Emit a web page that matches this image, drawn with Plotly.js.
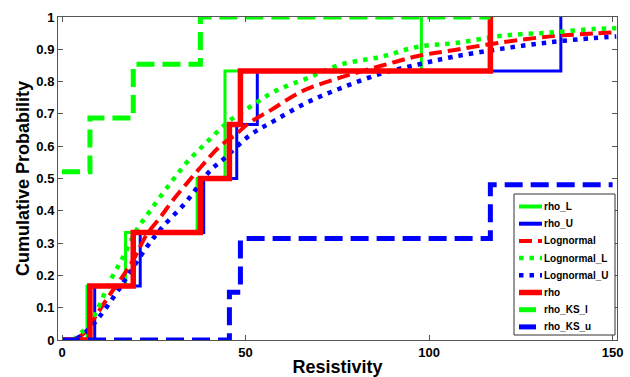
<!DOCTYPE html>
<html><head><meta charset="utf-8">
<script src="https://cdn.plot.ly/plotly-3.0.1.min.js"></script>
<style>html,body{margin:0;padding:0;background:#fff;} #chart{width:630px;height:377px;}</style>
</head><body><div id="chart"></div>
<script>
// ---- data ----
const stepLevels = [0, 0.167, 0.333, 0.5, 0.667, 0.833, 1];
const rhoX  = [0, 7.6, 19.4, 37.7, 45.6, 48.6, 116.7];
const rhoLX = [0, 6.8, 17.3, 36.8, 44.4, 44.4, 97.9];
const rhoUX = [0, 8.9, 21.3, 38.6, 47.6, 53.2, 135.9];

const ksLX = [0, 7.6, 19.4, 37.7, 116.7];
const ksLY = [0.521, 0.687, 0.854, 1.0, 1.0];
const ksUX = [0, 45.6, 48.6, 116.7, 150];
const ksUY = [0, 0.148, 0.314, 0.481, 0.481];

const logX = [3.5, 6, 9.5, 13, 17, 20, 23, 27, 30, 34, 38, 43, 47, 51, 57, 65, 75, 87, 97, 107, 120, 133, 145, 151];
const logY = [0, 0.021, 0.08, 0.14, 0.205, 0.26, 0.325, 0.383, 0.43, 0.485, 0.538, 0.60, 0.633, 0.672, 0.7125, 0.768, 0.8095, 0.849, 0.8794, 0.898, 0.9216, 0.94, 0.9489, 0.953];

const logLX = [3, 6, 9, 13, 17, 20, 24, 29.5, 34, 39.5, 45, 51, 58, 66.7, 76, 87, 97, 107.6, 120, 133, 145, 151];
const logLY = [0, 0.031, 0.08, 0.18, 0.265, 0.335, 0.40, 0.485, 0.55, 0.613, 0.673, 0.72, 0.77, 0.81, 0.853, 0.877, 0.908, 0.92, 0.942, 0.952, 0.963, 0.965];

const logUX = [4, 6, 9, 14.5, 18, 22.6, 27, 34, 40.4, 44, 51.3, 58, 66.7, 76, 86.7, 97, 106.7, 120, 133, 145, 151];
const logUY = [0.005, 0.02, 0.055, 0.14, 0.20, 0.28, 0.345, 0.43, 0.525, 0.56, 0.635, 0.68, 0.735, 0.78, 0.824, 0.853, 0.877, 0.902, 0.922, 0.935, 0.94];

const xTicks = [0, 50, 100, 150];

// ---- styles ----
const GREEN = 'rgb(0,255,0)', BLUE = 'rgb(0,0,255)', RED = 'rgb(255,0,0)';
const FONT = 'Liberation Sans, Arial, Helvetica, sans-serif';

const traces = [
  {name:'rho_L', x:rhoLX, y:stepLevels, line:{shape:'hv', color:GREEN, width:3}},
  {name:'rho_U', x:rhoUX, y:stepLevels, line:{shape:'hv', color:BLUE, width:3}},
  {name:'Lognormal', x:logX, y:logY, line:{shape:'spline', color:RED, width:4, dash:'13px,6px'}},
  {name:'Lognormal_L', x:logLX, y:logLY, line:{shape:'spline', color:GREEN, width:4.5, dash:'4.5px,6px'}},
  {name:'Lognormal_U', x:logUX, y:logUY, line:{shape:'spline', color:BLUE, width:4.5, dash:'4.5px,6px'}},
  {name:'rho', x:rhoX, y:stepLevels, line:{shape:'hv', color:RED, width:5.5}},
  {name:'rho_KS_l', x:ksLX, y:ksLY, line:{shape:'hv', color:GREEN, width:5, dash:'18px,8px'}},
  {name:'rho_KS_u', x:ksUX, y:ksUY, line:{shape:'hv', color:BLUE, width:5, dash:'18px,8px'}}
].map(t => Object.assign({type:'scatter', mode:'lines', showlegend:false, hoverinfo:'skip'}, t));

// ---- layout geometry ----
const W = 630, H = 377, M = {l:58, r:13, t:17, b:37};
const pw = W - M.l - M.r, ph = H - M.t - M.b;
const px2x = p => (p - M.l) / pw;
const px2y = p => (H - M.b - p) / ph;

// legend (drawn as a boxed key)
const shapes = [{type:'rect', xref:'paper', yref:'paper',
  x0:px2x(514), x1:px2x(615), y0:px2y(335), y1:px2y(194),
  line:{color:'#333', width:1}, fillcolor:'#fff', layer:'above'}];
const annotations = [];
const rowY0 = 206.5, rowStep = 17.2;
traces.forEach((t, i) => {
  const yc = rowY0 + i * rowStep;
  const isKS = t.name.indexOf('KS') >= 0;
  shapes.push({type:'line', xref:'paper', yref:'paper',
    x0:px2x(519), x1:px2x(isKS ? 536 : 542), y0:px2y(yc), y1:px2y(yc),
    line:{color:t.line.color, width:Math.max(t.line.width, 4), dash: isKS ? 'solid' : (t.line.dash || 'solid')},
    layer:'above'});
  annotations.push({xref:'paper', yref:'paper', x:px2x(541.5), y:px2y(yc),
    xanchor:'left', yanchor:'middle', showarrow:false, text:t.name,
    font:{family:FONT, size:10, color:'#000', weight:'bold'}});
});

const axisCommon = {
  showgrid:false, zeroline:false, showline:true, linecolor:'#555', linewidth:1,
  mirror:'ticks', ticks:'inside', ticklen:5, tickcolor:'#555', tickwidth:1,
  tickfont:{family:FONT, size:13, color:'#000', weight:'bold'}
};

const layout = {
  width:W, height:H, margin:M, paper_bgcolor:'#fff', plot_bgcolor:'#fff',
  showlegend:false,
  xaxis: Object.assign({}, axisCommon, {
    range:[-1.1, 151.2], tickmode:'array', tickvals:xTicks, ticktext:xTicks.map(String),
    title:{text:'Resistivity', standoff:5, font:{family:FONT, size:18, color:'#000', weight:'bold'}}
  }),
  yaxis: Object.assign({}, axisCommon, {
    range:[0, 1], dtick:0.1, tick0:0,
    title:{text:'Cumulative Probability', standoff:2, font:{family:FONT, size:18, color:'#000', weight:'bold'}}
  }),
  shapes:shapes, annotations:annotations
};

Plotly.newPlot('chart', traces, layout, {displayModeBar:false, staticPlot:true});
</script></body></html>
